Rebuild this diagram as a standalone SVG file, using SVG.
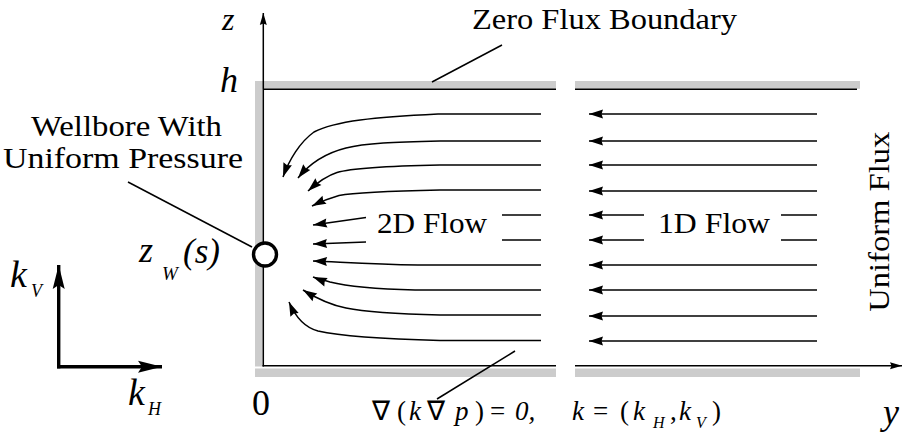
<svg xmlns="http://www.w3.org/2000/svg" width="903" height="436" viewBox="0 0 903 436">
<style>
.t{font-family:"Liberation Serif","Times New Roman",serif;font-size:30px;fill:#000}
.m{font-family:"Liberation Serif","Times New Roman",serif;font-style:italic;fill:#000}
.g{fill:#cccccc}
.ln{stroke:#000;stroke-width:1.5;fill:none}
.fl{stroke:#000;stroke-width:1.5;fill:none;marker-end:url(#ah)}
.kb{stroke:#000;stroke-width:3.4;fill:none;marker-end:url(#kh)}
</style>
<defs>
<marker id="ah" markerUnits="userSpaceOnUse" viewBox="0 -5 14 10" refX="14" refY="0" markerWidth="14" markerHeight="10" orient="auto" overflow="visible">
<path d="M0,-4.5 L14,0 L0,4.5 L1.5,0 z" fill="#000"/>
</marker>
<marker id="ax" markerUnits="userSpaceOnUse" viewBox="0 -4 12 8" refX="12" refY="0" markerWidth="12" markerHeight="8" orient="auto" overflow="visible">
<path d="M0,-3.5 L12,0 L0,3.5 L1.5,0 z" fill="#000"/>
</marker>
<marker id="kh" markerUnits="userSpaceOnUse" viewBox="0 -6.5 24 13" refX="24" refY="0" markerWidth="24" markerHeight="13" orient="auto" overflow="visible">
<path d="M0,-6 L24,0 L0,6 L4,0 z" fill="#000"/>
</marker>
</defs>
<rect width="903" height="436" fill="#fff"/>

<g id="reservoir">
<rect class="g" x="255" y="81" width="301" height="7.8"/>
<rect class="g" x="255" y="81" width="7.5" height="285.5"/>
<rect class="g" x="255" y="368.5" width="301" height="8.5"/>
<rect class="g" x="575" y="81" width="285" height="7.8"/>
<rect class="g" x="575" y="368.5" width="285" height="8.5"/>
<line class="ln" x1="263" y1="89.3" x2="556" y2="89.3"/>
<line class="ln" x1="575" y1="89.3" x2="857" y2="89.3"/>
<line class="ln" x1="262.5" y1="365.8" x2="556" y2="365.8"/>
</g>

<g id="axes">
<line class="ln" x1="263.3" y1="366.5" x2="263.3" y2="13" marker-end="url(#ax)"/>
<line class="ln" x1="575" y1="365.8" x2="902" y2="365.8" marker-end="url(#ax)"/>
<text class="m" x="222" y="29.5" font-size="32">z</text>
<text class="m" x="220" y="92" font-size="36">h</text>
<text class="t" x="252" y="415" style="font-size:36px">0</text>
<text class="m" x="883" y="424" font-size="36">y</text>
</g>

<g id="wellbore">
<circle cx="265" cy="254.5" r="11.5" fill="#fff" stroke="#000" stroke-width="3.4"/>
</g>

<g id="wellbore-label">
<text class="t" x="31" y="136" textLength="191" lengthAdjust="spacingAndGlyphs">Wellbore With</text>
<text class="t" x="3" y="168" textLength="240" lengthAdjust="spacingAndGlyphs">Uniform Pressure</text>
</g>

<g id="zw-label">
<text class="m" x="139" y="262" font-size="36">z</text>
<text class="m" x="162" y="280" font-size="19">W</text>
<text class="m" x="183" y="263" font-size="35">(s)</text>
</g>

<g id="zero-flux-label">
<text class="t" x="472" y="29" textLength="265" lengthAdjust="spacingAndGlyphs">Zero Flux Boundary</text>
</g>

<g id="uniform-flux-label">
<text class="t" transform="translate(889,221.7) rotate(-90)" text-anchor="middle" textLength="180" lengthAdjust="spacingAndGlyphs">Uniform Flux</text>
</g>

<g id="flow2d-label">
<text class="t" x="377" y="233" textLength="110" lengthAdjust="spacingAndGlyphs">2D Flow</text>
</g>

<g id="flow1d-label">
<text class="t" x="658" y="233" textLength="112" lengthAdjust="spacingAndGlyphs">1D Flow</text>
</g>

<g id="equation">
<text class="m" y="420" font-size="27"><tspan x="372" font-style="normal">∇</tspan><tspan x="397" font-style="normal">(</tspan><tspan x="409">k</tspan><tspan x="427" font-style="normal">∇</tspan><tspan x="455">p</tspan><tspan x="475" font-style="normal">)</tspan><tspan x="490" font-style="normal">=</tspan><tspan x="515">0,</tspan><tspan x="572">k</tspan><tspan x="593" font-style="normal">=</tspan><tspan x="620" font-style="normal">(</tspan><tspan x="633">k</tspan><tspan x="653" y="428" font-size="16">H</tspan><tspan x="670" y="420" font-style="normal">,</tspan><tspan x="679">k</tspan><tspan x="696" y="428" font-size="16">V</tspan><tspan x="712" y="420" font-style="normal">)</tspan></text>
</g>

<g id="k-axes">
<path class="kb" d="M58.7,368.4 L58.7,265"/>
<path class="kb" d="M57,366.7 L162,366.7"/>
<text class="m" x="10" y="287" font-size="38">k</text>
<text class="m" x="31" y="297" font-size="18">V</text>
<text class="m" x="128" y="405" font-size="38">k</text>
<text class="m" x="148" y="415" font-size="18">H</text>
</g>

<g id="connectors">
<line class="ln" x1="502" y1="45" x2="432" y2="82"/>
<line class="ln" x1="128" y1="182" x2="252" y2="247"/>
<line class="ln" x1="515" y1="351" x2="437" y2="399"/>
<path class="fl" d="M541,114 L438,114 C375,117 335,121 314,132 C300,142 289,160 283,177"/>
<path class="fl" d="M541,141 L440,141 C395,142 365,143 346,148 C326,153 310,163 298,178"/>
<path class="fl" d="M541,165 L440,165 C390,166 352,168 337,172.5 C326,176 318,182 308,191"/>
<path class="fl" d="M541,190 L440,190 C390,191 352,193 339,195.5 C330,198 322,201 312,206"/>
<line class="ln" x1="541" y1="215" x2="502" y2="215"/>
<path class="fl" d="M366,217.5 L313,225"/>
<line class="ln" x1="541" y1="240" x2="502" y2="240"/>
<path class="fl" d="M366,242 L313,244"/>
<path class="fl" d="M541,265 L418,265 C370,264 340,262 313,261"/>
<path class="fl" d="M541,290 L415,290 C375,289 346,286 330,282 C324,280 318,279 313,277"/>
<path class="fl" d="M541,315 L440,315 C400,314 366,312 346,308 C330,305 316,298 303,290"/>
<path class="fl" d="M541,340.5 L440,340.5 C380,339 340,336 318,331 C303,327 295,316 289,302"/>
<path class="fl" d="M817,114 L589,114"/>
<path class="fl" d="M817,141 L589,141"/>
<path class="fl" d="M817,165 L589,165"/>
<path class="fl" d="M817,191 L589,191"/>
<line class="ln" x1="817" y1="215" x2="781" y2="215"/>
<path class="fl" d="M644,215 L589,215"/>
<line class="ln" x1="817" y1="240" x2="781" y2="240"/>
<path class="fl" d="M644,240 L589,240"/>
<path class="fl" d="M817,265 L589,265"/>
<path class="fl" d="M817,290 L589,290"/>
<path class="fl" d="M817,316 L589,316"/>
<path class="fl" d="M817,341 L589,341"/>
</g>
</svg>
